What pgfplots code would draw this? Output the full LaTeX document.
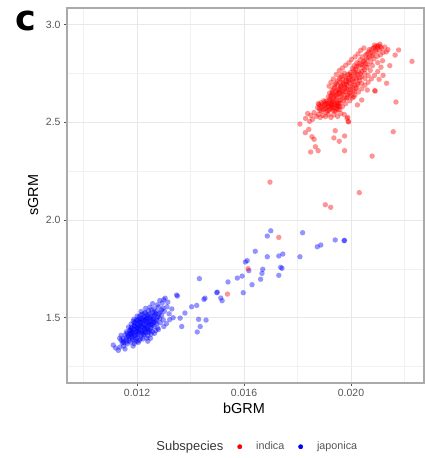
\documentclass[border=0pt]{standalone}
\usepackage{pgfplots}
\pgfplotsset{compat=1.18}
\usepackage{fontspec}
\setmainfont{Liberation Sans}
\newfontfamily\heavyfont{DejaVu Sans}
\definecolor{txtgray}{RGB}{85,85,85}
\definecolor{titgray}{RGB}{55,55,55}
\definecolor{gridc}{RGB}{232,232,232}
\definecolor{bordc}{RGB}{170,170,170}

% japonica points (bGRM, sGRM)
\pgfplotstableread{
x y
0.01111 1.360
0.01130 1.333
0.01136 1.350
0.01120 1.345
0.01145 1.372
0.01150 1.355
0.01140 1.385
0.01155 1.340
0.01150 1.372
0.01163 1.366
0.01176 1.375
0.01190 1.368
0.01205 1.374
0.01148 1.392
0.01160 1.386
0.01172 1.395
0.01184 1.388
0.01196 1.394
0.01209 1.385
0.01222 1.391
0.01236 1.396
0.01155 1.412
0.01167 1.405
0.01179 1.414
0.01191 1.407
0.01203 1.415
0.01215 1.406
0.01227 1.413
0.01240 1.408
0.01253 1.416
0.01160 1.428
0.01172 1.434
0.01184 1.426
0.01196 1.435
0.01208 1.427
0.01220 1.433
0.01232 1.425
0.01244 1.436
0.01257 1.429
0.01270 1.434
0.01168 1.452
0.01180 1.446
0.01192 1.455
0.01204 1.447
0.01216 1.454
0.01228 1.445
0.01240 1.453
0.01252 1.448
0.01264 1.456
0.01277 1.447
0.01178 1.468
0.01190 1.474
0.01202 1.466
0.01214 1.475
0.01226 1.467
0.01238 1.473
0.01250 1.465
0.01262 1.476
0.01274 1.469
0.01287 1.474
0.01188 1.492
0.01200 1.486
0.01212 1.495
0.01224 1.487
0.01236 1.494
0.01248 1.485
0.01260 1.493
0.01272 1.488
0.01285 1.496
0.01298 1.489
0.01200 1.508
0.01213 1.514
0.01226 1.506
0.01239 1.515
0.01252 1.507
0.01265 1.513
0.01278 1.505
0.01292 1.512
0.01215 1.532
0.01229 1.526
0.01243 1.535
0.01257 1.527
0.01271 1.534
0.01286 1.528
0.01302 1.533
0.01232 1.548
0.01248 1.554
0.01264 1.546
0.01280 1.555
0.01297 1.549
0.01312 1.556
0.01258 1.572
0.01276 1.566
0.01294 1.575
0.01285 1.588
0.01300 1.592
0.01175 1.420
0.01188 1.440
0.01200 1.400
0.01206 1.458
0.01218 1.420
0.01222 1.478
0.01230 1.440
0.01236 1.500
0.01244 1.462
0.01256 1.482
0.01194 1.475
0.01182 1.398
0.01170 1.382
0.01212 1.440
0.01246 1.520
0.01232 1.460
0.01260 1.505
0.01196 1.425
0.01214 1.395
0.01224 1.415
0.01168 1.408
0.01205 1.490
0.01250 1.440
0.01266 1.525
0.01185 1.418
0.01198 1.448
0.01210 1.468
0.01222 1.452
0.01234 1.482
0.01246 1.498
0.01258 1.462
0.01270 1.520
0.01178 1.435
0.01190 1.462
0.01202 1.432
0.01215 1.485
0.01228 1.500
0.01240 1.428
0.01254 1.540
0.01172 1.418
0.01183 1.428
0.01194 1.412
0.01205 1.422
0.01216 1.432
0.01227 1.426
0.01238 1.442
0.01178 1.450
0.01189 1.458
0.01200 1.444
0.01211 1.456
0.01222 1.464
0.01233 1.450
0.01244 1.472
0.01255 1.466
0.01186 1.482
0.01197 1.488
0.01208 1.478
0.01219 1.496
0.01230 1.488
0.01241 1.480
0.01252 1.494
0.01263 1.484
0.01208 1.504
0.01219 1.518
0.01230 1.524
0.01241 1.508
0.01180 1.402
0.01192 1.380
0.01160 1.398
0.01163 1.420
0.01176 1.440
0.01275 1.500
0.01282 1.520
0.01292 1.540
0.01160 1.376
0.01200 1.380
0.01148 1.380
0.01245 1.425
0.01270 1.478
0.01320 1.520
0.01330 1.545
0.01315 1.580
0.01335 1.500
0.01310 1.470
0.01300 1.455
0.01140 1.410
0.01135 1.395
0.01250 1.395
0.01265 1.420
0.01280 1.440
0.01185 1.355
0.01240 1.380
0.01305 1.600
0.01322 1.490
0.01348 1.616
0.01351 1.611
0.01404 1.556
0.01423 1.563
0.01454 1.600
0.01450 1.594
0.01430 1.492
0.01458 1.488
0.01425 1.427
0.01436 1.455
0.01379 1.524
0.01361 1.498
0.01367 1.455
0.01498 1.628
0.01433 1.700
0.01500 1.631
0.01513 1.601
0.01518 1.587
0.01540 1.683
0.01575 1.703
0.01593 1.713
0.01597 1.628
0.01630 1.669
0.01605 1.785
0.01612 1.792
0.01618 1.741
0.01642 1.840
0.01670 1.748
0.01667 1.727
0.01662 1.697
0.01687 1.812
0.01687 1.918
0.01700 1.945
0.01730 1.816
0.01745 1.826
0.01809 1.812
0.01737 1.758
0.01742 1.753
0.01730 1.717
0.01819 1.935
0.01874 1.863
0.01887 1.872
0.01941 1.898
0.01974 1.894
0.01976 1.896
}\japonica

% indica points (bGRM, sGRM)
\pgfplotstableread{
x y
0.01875 2.575
0.01880 2.590
0.01884 2.560
0.01888 2.600
0.01892 2.578
0.01896 2.565
0.01900 2.588
0.01903 2.605
0.01906 2.572
0.01910 2.594
0.01913 2.558
0.01916 2.582
0.01919 2.610
0.01922 2.569
0.01925 2.598
0.01928 2.585
0.01931 2.562
0.01934 2.604
0.01937 2.577
0.01940 2.591
0.01943 2.615
0.01946 2.570
0.01949 2.598
0.01952 2.583
0.01955 2.610
0.01958 2.566
0.01898 2.610
0.01908 2.552
0.01921 2.620
0.01944 2.556
0.01886 2.584
0.01915 2.596
0.01930 2.590
0.01948 2.580
0.01878 2.596
0.01890 2.557
0.01894 2.592
0.01902 2.570
0.01909 2.608
0.01912 2.580
0.01918 2.563
0.01924 2.590
0.01929 2.604
0.01933 2.575
0.01938 2.558
0.01942 2.600
0.01947 2.588
0.01951 2.566
0.01954 2.595
0.01957 2.580
0.01960 2.612
0.01882 2.570
0.01905 2.595
0.01926 2.576
0.01915 2.630
0.01920 2.650
0.01926 2.640
0.01930 2.665
0.01935 2.625
0.01938 2.680
0.01942 2.655
0.01946 2.640
0.01950 2.690
0.01952 2.668
0.01955 2.648
0.01958 2.705
0.01960 2.632
0.01963 2.685
0.01966 2.660
0.01968 2.720
0.01970 2.645
0.01972 2.698
0.01975 2.675
0.01978 2.735
0.01980 2.655
0.01982 2.712
0.01985 2.690
0.01988 2.745
0.01990 2.668
0.01992 2.725
0.01995 2.700
0.01998 2.755
0.02000 2.680
0.02003 2.738
0.02006 2.712
0.02010 2.765
0.02013 2.690
0.02016 2.745
0.02020 2.722
0.02025 2.700
0.02030 2.760
0.01944 2.700
0.01956 2.725
0.01965 2.742
0.01975 2.622
0.01987 2.640
0.01997 2.650
0.02008 2.662
0.02018 2.675
0.01932 2.645
0.01948 2.662
0.01962 2.678
0.01976 2.694
0.01990 2.708
0.02004 2.722
0.01928 2.615
0.01940 2.635
0.01959 2.655
0.01983 2.670
0.01925 2.632
0.01945 2.626
0.01965 2.635
0.01985 2.628
0.02000 2.636
0.01930 2.652
0.01950 2.646
0.01972 2.655
0.01993 2.648
0.02012 2.656
0.01935 2.672
0.01957 2.666
0.01978 2.675
0.01998 2.668
0.02020 2.676
0.01940 2.692
0.01962 2.686
0.01983 2.695
0.02005 2.688
0.02026 2.694
0.01950 2.712
0.01970 2.706
0.01990 2.715
0.02010 2.708
0.02032 2.714
0.01962 2.732
0.01982 2.726
0.02000 2.735
0.02020 2.728
0.02040 2.734
0.01975 2.752
0.01995 2.746
0.02015 2.755
0.02035 2.748
0.01918 2.685
0.01925 2.705
0.01934 2.722
0.01945 2.745
0.01956 2.765
0.01968 2.778
0.01980 2.792
0.01992 2.805
0.02002 2.822
0.02015 2.835
0.02026 2.850
0.02036 2.868
0.02048 2.880
0.02005 2.625
0.02015 2.640
0.02028 2.655
0.02040 2.672
0.02052 2.690
0.02064 2.705
0.02076 2.722
0.02088 2.740
0.02100 2.760
0.02112 2.782
0.02040 2.700
0.02052 2.725
0.02064 2.740
0.02033 2.728
0.02045 2.780
0.01960 2.598
0.01972 2.612
0.01984 2.625
0.02005 2.775
0.02012 2.790
0.02018 2.770
0.02022 2.805
0.02028 2.785
0.02034 2.820
0.02038 2.795
0.02042 2.835
0.02046 2.810
0.02050 2.770
0.02055 2.845
0.02058 2.822
0.02062 2.795
0.02066 2.860
0.02070 2.835
0.02074 2.810
0.02078 2.875
0.02082 2.850
0.02086 2.825
0.02090 2.885
0.02094 2.862
0.02098 2.838
0.02102 2.892
0.02106 2.870
0.02110 2.845
0.02114 2.880
0.02120 2.858
0.02126 2.885
0.02132 2.860
0.02138 2.872
0.02088 2.895
0.02108 2.900
0.02060 2.850
0.02068 2.872
0.02075 2.858
0.02084 2.880
0.02092 2.870
0.02100 2.882
0.02096 2.890
0.02110 2.888
0.02080 2.840
0.02065 2.830
0.02050 2.815
0.02045 2.795
0.02030 2.800
0.02020 2.785
0.02055 2.800
0.02040 2.760
0.02060 2.780
0.02080 2.790
0.02100 2.805
0.02118 2.815
0.02024 2.745
0.02052 2.752
0.02072 2.765
0.01830 2.520
0.01838 2.545
0.01845 2.505
0.01850 2.535
0.01856 2.515
0.01862 2.550
0.01870 2.530
0.01878 2.540
0.01885 2.525
0.01895 2.535
0.01905 2.530
0.01915 2.540
0.01925 2.525
0.01935 2.538
0.01950 2.530
0.01962 2.545
0.01975 2.540
0.01985 2.520
0.01990 2.503
0.01988 2.525
0.01968 2.580
0.01980 2.595
0.01995 2.610
0.02010 2.630
0.02024 2.589
0.02040 2.614
0.02061 2.665
0.02090 2.660
0.01809 2.491
0.01829 2.447
0.01842 2.464
0.01854 2.426
0.01862 2.413
0.01849 2.348
0.01877 2.355
0.01867 2.375
0.01936 2.420
0.01956 2.403
0.01941 2.457
0.01976 2.430
0.01976 2.355
0.01991 2.503
0.02079 2.327
0.02158 2.452
0.02168 2.604
0.02133 2.700
0.02228 2.812
0.02178 2.870
0.02165 2.844
0.02031 2.140
0.01904 2.078
0.01924 2.065
0.01697 2.194
0.01730 1.911
0.01615 1.751
0.01538 1.621
0.02089 2.662
0.02105 2.720
0.02120 2.740
0.02145 2.790
}\indica

\begin{document}
\begin{tikzpicture}[x=1bp,y=1bp]
\useasboundingbox (0,0) rectangle (424,458);
\node[anchor=base, inner sep=0pt, font=\fontsize{35}{35}\heavyfont\bfseries] at (26,427) {c};
\begin{axis}[
  at={(67bp,75bp)}, anchor=south west,
  scale only axis, width=357bp, height=375bp,
  xmin=0.00938, xmax=0.02273, ymin=1.166, ymax=3.085,
  xtick={0.012,0.016,0.020}, xticklabels={0.012,0.016,0.020},
  ytick={1.5,2.0,2.5,3.0}, yticklabels={1.5,2.0,2.5,3.0},
  minor xtick={0.010,0.014,0.018,0.022},
  minor ytick={1.25,1.75,2.25,2.75},
  scaled x ticks=false, scaled y ticks=false,
  grid=both,
  major grid style={draw=gridc, line width=0.9bp},
  minor grid style={draw=gridc!60, line width=0.5bp},
  axis line style={draw=bordc, line width=1.3bp},
  tick align=outside, xtick pos=left, ytick pos=left,
  major tick length=3bp, minor tick length=0pt,
  tick style={draw=txtgray, line width=0.8bp},
  ticklabel style={font=\fontsize{10.5}{12}\selectfont, text=txtgray},
  xlabel={bGRM}, ylabel={sGRM},
  label style={font=\fontsize{14.5}{16}\selectfont},
  xlabel style={at={(axis description cs:0.496,-0.067)}, anchor=center},
  ylabel style={at={(axis description cs:-0.095,0.501)}, anchor=center},
  legend style={at={(axis description cs:0.512,-0.170)}, anchor=center,
    draw=none, fill=none, legend columns=-1,
    nodes={inner sep=0pt},
    font=\fontsize{10.8}{12}\selectfont,
    /tikz/every odd column/.append style={column sep=14bp},
    /tikz/every even column/.append style={column sep=14bp}},
]
\addplot[only marks, mark=*, mark size=2.7bp,
  mark options={fill=blue, draw opacity=0, fill opacity=0.42}, forget plot]
  table[x=x, y=y] {\japonica};
\addplot[only marks, mark=*, mark size=2.7bp,
  mark options={fill=red, draw opacity=0, fill opacity=0.42}, forget plot]
  table[x=x, y=y] {\indica};
\addlegendimage{empty legend}
\addlegendentry{\textcolor{titgray}{\fontsize{13}{14}\selectfont Subspecies}}
\addlegendimage{legend image code/.code={\fill[red] (0bp,0bp) circle (2.2bp);}}
\addlegendentry{\textcolor{txtgray}{indica}}
\addlegendimage{legend image code/.code={\fill[blue] (0bp,0bp) circle (2.2bp);}}
\addlegendentry{\textcolor{txtgray}{japonica}}
\end{axis}
\end{tikzpicture}
\end{document}
